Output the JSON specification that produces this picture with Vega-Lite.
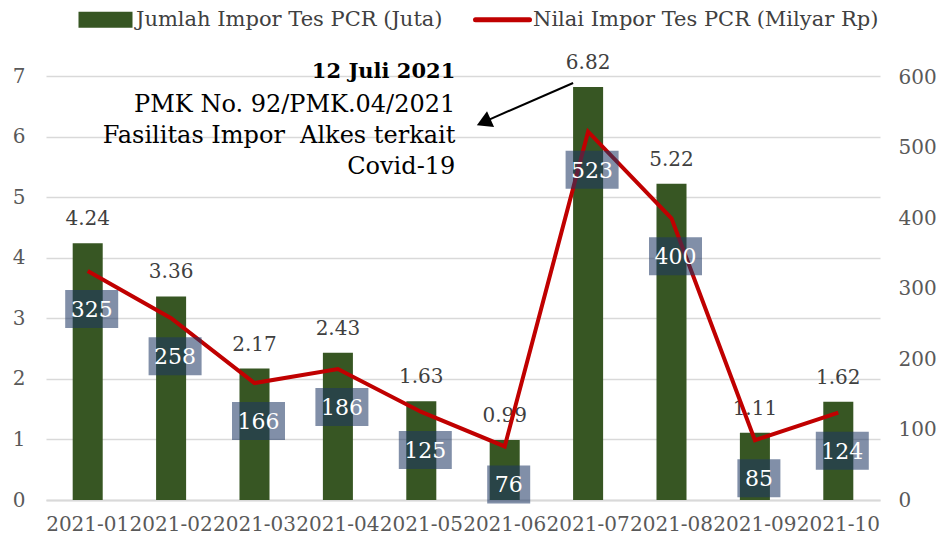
{
  "$schema": "https://vega.github.io/schema/vega-lite/v6.json",
  "width": 834,
  "height": 424,
  "autosize": {"type": "none"},
  "padding": {"left": 46, "top": 76, "right": 60, "bottom": 44},
  "background": "white",
  "config": {
    "view": {"stroke": null},
    "font": "DejaVu Serif",
    "axis": {"labelFont": "DejaVu Serif", "labelColor": "#595959", "labelFontSize": 20},
    "axisX": {"labelAngle": 0, "ticks": false, "domainColor": "#D9D9D9", "domainWidth": 2, "labelPadding": 14, "labelOverlap": false, "labelBound": false, "labelFontSize": 20}
  },
  "data": {
    "values": [
      {"bulan": "2021-01", "jumlah": 4.24, "nilai": 325},
      {"bulan": "2021-02", "jumlah": 3.36, "nilai": 258},
      {"bulan": "2021-03", "jumlah": 2.17, "nilai": 166},
      {"bulan": "2021-04", "jumlah": 2.43, "nilai": 186},
      {"bulan": "2021-05", "jumlah": 1.63, "nilai": 125},
      {"bulan": "2021-06", "jumlah": 0.99, "nilai": 76},
      {"bulan": "2021-07", "jumlah": 6.82, "nilai": 523},
      {"bulan": "2021-08", "jumlah": 5.22, "nilai": 400},
      {"bulan": "2021-09", "jumlah": 1.11, "nilai": 85},
      {"bulan": "2021-10", "jumlah": 1.62, "nilai": 124}
    ]
  },
  "layer": [
    {
      "layer": [
        {
          "mark": {"type": "bar", "color": "#375623"},
          "encoding": {
            "x": {
              "field": "bulan", "type": "nominal", "sort": null, "title": null,
              "scale": {"paddingInner": 0.64, "paddingOuter": 0.32}
            },
            "y": {
              "field": "jumlah", "type": "quantitative",
              "scale": {"domain": [0, 7], "nice": false},
              "axis": {"title": null, "values": [0, 1, 2, 3, 4, 5, 6, 7], "format": "d", "ticks": false, "domain": false, "gridColor": "#D9D9D9", "gridWidth": 1.5, "labelPadding": 21}
            },
            "color": {
              "datum": "Jumlah Impor Tes PCR (Juta)", "type": "nominal",
              "scale": {"domain": ["Jumlah Impor Tes PCR (Juta)", "Nilai Impor Tes PCR (Milyar Rp)"], "range": ["#375623", "#C00000"]},
              "legend": {
                "title": null, "orient": "none", "legendX": 49, "legendY": -67, "direction": "horizontal",
                "padding": 0, "labelFont": "DejaVu Serif", "labelFontSize": 21, "labelColor": "#404040",
                "labelOffset": 20, "columnPadding": 22, "symbolSize": 2916, "labelLimit": 500,
                "encode": {
                  "symbols": {
                    "update": {
                      "shape": {"signal": "datum.value === 'Jumlah Impor Tes PCR (Juta)' ? 'M-1,-0.3H1V0.3H-1Z' : 'M-1,0H1'"},
                      "fill": {"signal": "datum.value === 'Jumlah Impor Tes PCR (Juta)' ? '#375623' : 'transparent'"},
                      "stroke": {"signal": "datum.value === 'Jumlah Impor Tes PCR (Juta)' ? '#375623' : '#C00000'"},
                      "strokeWidth": {"signal": "datum.value === 'Jumlah Impor Tes PCR (Juta)' ? 0 : 5"},
                      "strokeCap": {"value": "round"},
                      "opacity": {"value": 1}
                    }
                  }
                }
              }
            }
          }
        },
        {
          "mark": {"type": "text", "dy": -18, "baseline": "alphabetic", "fontSize": 20, "color": "#404040", "font": "DejaVu Serif"},
          "encoding": {
            "x": {"field": "bulan", "type": "nominal", "sort": null, "title": null},
            "y": {"field": "jumlah", "type": "quantitative"},
            "text": {"field": "jumlah", "type": "quantitative", "format": ".2f"}
          }
        },
        {
          "data": {"values": [{"label": "12 Juli 2021"}]},
          "mark": {"type": "text", "align": "right", "baseline": "alphabetic", "dx": 34, "fontSize": 21, "fontWeight": "bold", "color": "#000000", "font": "DejaVu Serif"},
          "encoding": {
            "x": {"datum": "2021-05", "type": "nominal", "title": null},
            "y": {"datum": 6.967, "type": "quantitative"},
            "text": {"field": "label", "type": "nominal"}
          }
        },
        {
          "data": {"values": [{"label": ["PMK No. 92/PMK.04/2021", "Fasilitas Impor\u00a0 Alkes terkait", "Covid-19"]}]},
          "mark": {"type": "text", "align": "right", "baseline": "alphabetic", "dx": 34, "fontSize": 24, "lineHeight": 31, "color": "#000000", "font": "DejaVu Serif"},
          "encoding": {
            "x": {"datum": "2021-05", "type": "nominal", "title": null},
            "y": {"datum": 6.406, "type": "quantitative"},
            "text": {"field": "label"}
          }
        },
        {
          "data": {"values": [{"label": "arrow"}]},
          "mark": {"type": "rule", "color": "#000000", "strokeWidth": 2, "xOffset": -15, "x2Offset": -15},
          "encoding": {
            "x": {"datum": "2021-07", "type": "nominal", "title": null},
            "x2": {"datum": "2021-06"},
            "y": {"datum": 6.885, "type": "quantitative"},
            "y2": {"datum": 6.285}
          }
        },
        {
          "data": {"values": [{"label": "arrowhead"}]},
          "mark": {"type": "point", "shape": "triangle-up", "filled": true, "color": "#000000", "opacity": 1, "size": 300, "angle": 246, "xOffset": -21},
          "encoding": {
            "x": {"datum": "2021-06", "type": "nominal", "title": null},
            "y": {"datum": 6.237, "type": "quantitative"}
          }
        }
      ]
    },
    {
      "layer": [
        {
          "mark": {"type": "line", "strokeWidth": 4, "color": "#C00000"},
          "encoding": {
            "x": {"field": "bulan", "type": "nominal", "sort": null, "title": null},
            "y": {
              "field": "nilai", "type": "quantitative",
              "scale": {"domain": [0, 602], "nice": false},
              "axis": {"title": null, "orient": "right", "values": [0, 100, 200, 300, 400, 500, 600], "ticks": false, "domain": false, "grid": false, "labelPadding": 18}
            },
            "color": {"datum": "Nilai Impor Tes PCR (Milyar Rp)", "type": "nominal"}
          }
        },
        {
          "transform": [{"filter": "datum.nilai >= 100"}],
          "mark": {"type": "point", "shape": "M-1,-0.717H1V0.717H-1Z", "size": 2809, "filled": true, "color": "#1F3864", "opacity": 0.56, "yOffset": 38, "xOffset": 4},
          "encoding": {
            "x": {"field": "bulan", "type": "nominal", "sort": null, "title": null},
            "y": {"field": "nilai", "type": "quantitative"}
          }
        },
        {
          "transform": [{"filter": "datum.nilai < 100"}],
          "mark": {"type": "point", "shape": "M-1,-0.884H1V0.884H-1Z", "size": 1849, "filled": true, "color": "#1F3864", "opacity": 0.56, "yOffset": 38, "xOffset": 4},
          "encoding": {
            "x": {"field": "bulan", "type": "nominal", "sort": null, "title": null},
            "y": {"field": "nilai", "type": "quantitative"}
          }
        },
        {
          "mark": {"type": "text", "dy": 39, "dx": 4, "baseline": "middle", "fontSize": 22, "color": "#FFFFFF", "font": "DejaVu Serif"},
          "encoding": {
            "x": {"field": "bulan", "type": "nominal", "sort": null, "title": null},
            "y": {"field": "nilai", "type": "quantitative"},
            "text": {"field": "nilai", "type": "quantitative"}
          }
        }
      ]
    }
  ],
  "resolve": {"scale": {"y": "independent"}}
}
